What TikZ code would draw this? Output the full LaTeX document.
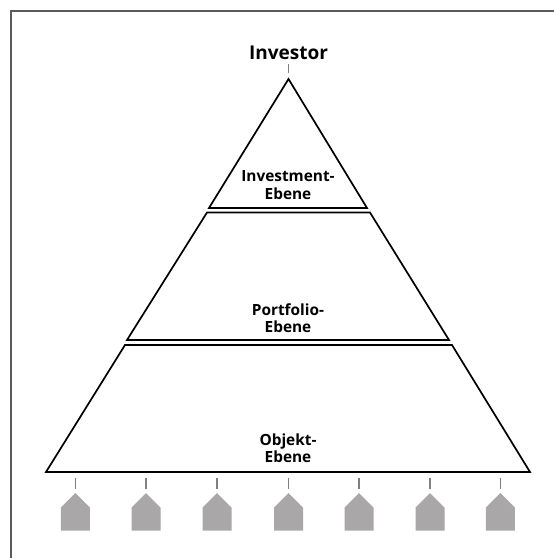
\documentclass[tikz,border=0pt]{standalone}
\usepackage{fontspec}
\setmainfont{Open Sans}
\definecolor{housegray}{HTML}{A9A7A7}
\definecolor{framegray}{HTML}{5A5A5A}
\definecolor{tickgray}{HTML}{808080}
\tikzset{
  level/.style={draw=black,line width=1.7pt,line join=miter},
  tick/.style={draw=tickgray,line width=1.1pt},
  label/.style={font=\fontsize{15.4}{17.5}\selectfont\bfseries,align=center,inner sep=0pt},
}
\begin{document}
\begin{tikzpicture}[x=1pt,y=-1pt]
\useasboundingbox (0,0) rectangle (554,558);
\draw[draw=framegray,line width=1.6pt] (554,11) -- (11,11) -- (11,558);
% Pyramide
\draw[level] (288.5,79) -- (367,208) -- (209,208) -- cycle;
\draw[level] (207,212.5) -- (370,212.5) -- (449,340) -- (127,340) -- cycle;
\draw[level] (125,345) -- (452,345) -- (530,472) -- (46,472) -- cycle;
\node[label] (investment) at (288,185) {Investment-\\Ebene};
\node[label] (portfolio) at (288,318) {Portfolio-\\Ebene};
\node[label] (objekt) at (288,448) {Objekt-\\Ebene};
\node[label,font=\fontsize{19}{21}\selectfont\bfseries] (investor) at (288.5,53) {Investor};
\coordinate (top1) at (288.5,64);
\coordinate (top2) at (288.5,73);
\draw[tick] (top1) -- (top2);
% Objekte
\foreach \i/\x in {1/75.3,2/146,3/217,4/288.5,5/359,6/430,7/500.3}{
  \coordinate (tick\i) at (\x,478);
  \coordinate (roof\i) at (\x,489);
  \draw[tick] (tick\i) -- (roof\i);
  \fill[housegray] (\x,493) -- ++(14.5,14.5) -- ++(0,23) -- ++(-29,0) -- ++(0,-23) -- cycle;
}
\end{tikzpicture}
\end{document}
